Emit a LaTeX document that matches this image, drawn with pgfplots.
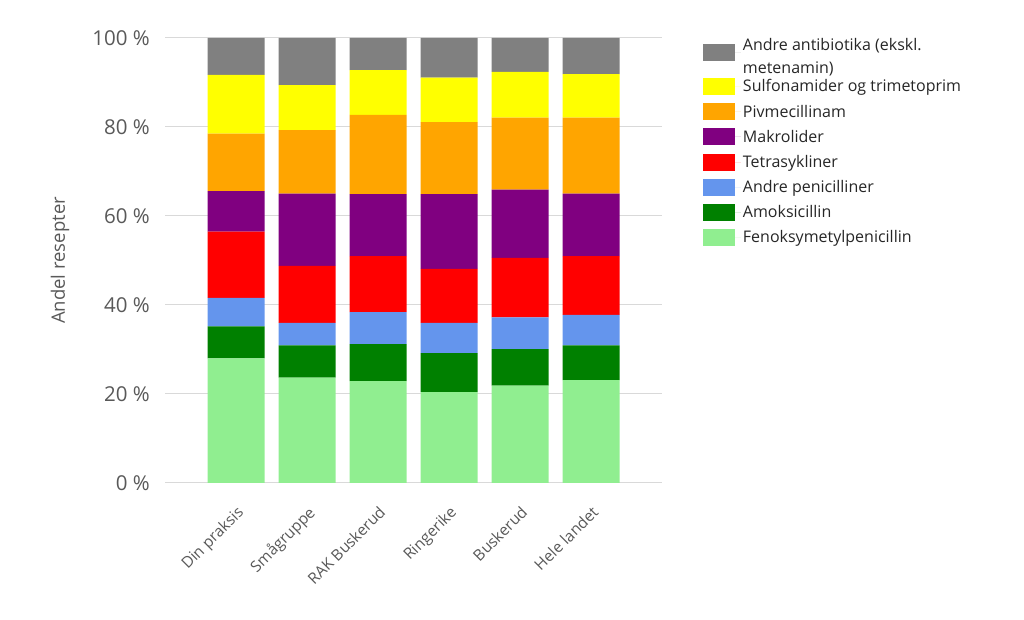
\documentclass[border=0pt]{standalone}
\usepackage{pgfplots}
\pgfplotsset{compat=1.18}
\usepackage{fontspec}
\setmainfont{Open Sans}
\definecolor{txtgray}{HTML}{595959}
\definecolor{gridgray}{HTML}{D9D9D9}
\definecolor{cGray}{HTML}{808080}
\definecolor{cYellow}{HTML}{FFFF00}
\definecolor{cOrange}{HTML}{FFA500}
\definecolor{cPurple}{HTML}{800080}
\definecolor{cRed}{HTML}{FF0000}
\definecolor{cBlue}{HTML}{6495ED}
\definecolor{cGreen}{HTML}{008000}
\definecolor{cLight}{HTML}{90EE90}
\pgfplotstableread{
x feno amok andrepen tetra makro pivm sulfa andre
0 28.0 7.2 6.4 14.9 9.1 12.9 13.2 8.3
1 23.7 7.2 5.1 12.8 16.2 14.3 10.1 10.6
2 22.9 8.3 7.2 12.6 13.9 17.8 10.1 7.2
3 20.4 8.8 6.8 12.1 16.8 16.2 10.0 8.9
4 21.9 8.2 7.1 13.4 15.3 16.2 10.3 7.6
5 23.1 7.8 6.9 13.2 14.0 17.1 9.8 8.1
}\data
\begin{document}
\begin{tikzpicture}[x=1pt,y=1pt]
\path[use as bounding box] (0,0) rectangle (1024,620);
\begin{axis}[
  at={(165pt,137pt)}, anchor=south west,
  scale only axis, width=497pt, height=445pt,
  ybar stacked, bar width=57pt,
  xmin=-1, xmax=6, ymin=0, ymax=100,
  axis line style={draw=none},
  ymajorgrids, grid style={gridgray, line width=1pt},
  major tick length=0pt,
  xtick=data,
  xticklabels={Din praksis, Smågruppe, RAK Buskerud, Ringerike, Buskerud, Hele landet},
  xticklabel style={yshift=-19pt, rotate=45, anchor=north east, font=\fontsize{15.5}{19}\selectfont, text=txtgray, inner sep=2pt},
  ytick={0,20,40,60,80,100},
  yticklabels={0 \%, 20 \%, 40 \%, 60 \%, 80 \%, 100 \%},
  yticklabel style={font=\fontsize{20.5}{24}\selectfont, text=txtgray, inner sep=0pt, xshift=-15pt},
  ylabel={Andel resepter},
  ylabel style={at={(axis description cs:-0.211,0.5)}, anchor=center, rotate=0, font=\fontsize{18.5}{22}\selectfont, text=txtgray},
  reverse legend,
  legend cell align=left,
  legend style={at={(axis description cs:1.076,1.012)}, anchor=north west, draw=none, fill=none,
    font=\fontsize{16}{19.5}\selectfont, text=black!85, row sep=7.5pt},
  legend image code/.code={\fill[#1] (0pt,-8.5pt) rectangle (32pt,8.5pt); \path (0pt,0pt) -- (38pt,0pt);},
]
\addplot[fill=cLight, draw=none] table[x=x, y=feno] {\data};
\addplot[fill=cGreen, draw=none] table[x=x, y=amok] {\data};
\addplot[fill=cBlue, draw=none] table[x=x, y=andrepen] {\data};
\addplot[fill=cRed, draw=none] table[x=x, y=tetra] {\data};
\addplot[fill=cPurple, draw=none] table[x=x, y=makro] {\data};
\addplot[fill=cOrange, draw=none] table[x=x, y=pivm] {\data};
\addplot[fill=cYellow, draw=none] table[x=x, y=sulfa] {\data};
\addplot[fill=cGray, draw=none] table[x=x, y=andre] {\data};
\legend{Fenoksymetylpenicillin, Amoksicillin, Andre penicilliner, Tetrasykliner, Makrolider, Pivmecillinam, Sulfonamider og trimetoprim, {\begin{tabular}{@{}l@{}}Andre antibiotika (ekskl.\\[3pt]metenamin)\rule[-15pt]{0pt}{15pt}\end{tabular}}}
\end{axis}
\end{tikzpicture}
\end{document}
